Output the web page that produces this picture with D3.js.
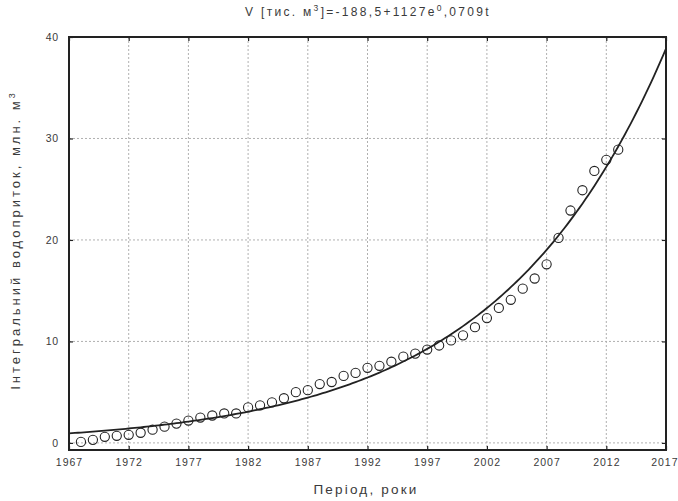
<!DOCTYPE html>
<html><head><meta charset="utf-8">
<script src="https://cdn.jsdelivr.net/npm/d3@7"></script>
<style>body{margin:0;background:#fff;}text{font-family:"Liberation Sans",Arial,sans-serif;fill:#3a3a3a;}</style>
</head><body><svg id="c" width="678" height="501"></svg>
<script>
const years = [1968,1969,1970,1971,1972,1973,1974,1975,1976,1977,1978,1979,1980,1981,1982,1983,1984,1985,1986,1987,1988,1989,1990,1991,1992,1993,1994,1995,1996,1997,1998,1999,2000,2001,2002,2003,2004,2005,2006,2007,2008,2009,2010,2011,2012,2013];
const volumes = [0.1,0.3,0.6,0.7,0.8,1.0,1.3,1.6,1.9,2.2,2.5,2.7,2.9,2.9,3.5,3.7,4.0,4.4,5.0,5.2,5.8,6.0,6.6,6.9,7.4,7.6,8.0,8.5,8.8,9.2,9.6,10.1,10.6,11.4,12.3,13.3,14.1,15.2,16.2,17.6,20.2,22.9,24.9,26.8,27.9,28.9];
const fitCoef = [-188.5, 1127, 0.0709]; // V [тис. м3] = a + b*e^(c*t), t = year-1967
const xTicks = [1967,1972,1977,1982,1987,1992,1997,2002,2007,2012,2017];
const yTicks = [0,10,20,30,40];

const svg = d3.select("#c");
const L=69,R=666,T=37,B=450;
const x = d3.scaleLinear().domain([1967,2017]).range([L,R]);
const y = d3.scaleLinear().domain([-0.7,40]).range([B,T]);

// grid
svg.append("g").selectAll("line").data(xTicks.slice(1,-1)).join("line")
  .attr("x1",d=>x(d)).attr("x2",d=>x(d)).attr("y1",T).attr("y2",B)
  .attr("stroke","#b0b0b0").attr("stroke-width",1).attr("stroke-dasharray","2,2");
svg.append("g").selectAll("line").data(yTicks.slice(0,-1)).join("line")
  .attr("x1",L).attr("x2",R).attr("y1",d=>y(d)).attr("y2",d=>y(d))
  .attr("stroke","#b0b0b0").attr("stroke-width",1).attr("stroke-dasharray","2,2");

// axes with inner ticks
const ax = svg.append("g").attr("transform",`translate(0,${B})`)
  .call(d3.axisBottom(x).tickValues(xTicks).tickFormat(d3.format("d")).tickSizeInner(-4).tickSizeOuter(0).tickPadding(9));
const axT = svg.append("g").attr("transform",`translate(0,${T})`)
  .call(d3.axisTop(x).tickValues(xTicks).tickFormat("").tickSizeInner(-4).tickSizeOuter(0));
const ay = svg.append("g").attr("transform",`translate(${L},0)`)
  .call(d3.axisLeft(y).tickValues(yTicks).tickSizeInner(-4).tickSizeOuter(0).tickPadding(10));
const ayR = svg.append("g").attr("transform",`translate(${R},0)`)
  .call(d3.axisRight(y).tickValues(yTicks).tickFormat("").tickSizeInner(-4).tickSizeOuter(0));
[ax,axT,ay,ayR].forEach(g=>{g.select(".domain").remove();g.selectAll(".tick line").attr("stroke","#222").attr("stroke-width",1.2);});
ax.selectAll("text").attr("font-size",10.5).attr("fill","#3a3a3a").style("letter-spacing","1px");
ax.selectAll(".tick").filter(d=>d===2017).select("text").attr("text-anchor","end").attr("dx",12);
ay.selectAll("text").attr("font-size",10.5).attr("fill","#3a3a3a").style("letter-spacing","0.8px");

// fitted curve
svg.append("clipPath").attr("id","clip").append("rect").attr("x",L).attr("y",T).attr("width",R-L).attr("height",B-T);
const curveYears = d3.range(1967,2017.01,0.25);
svg.append("path").datum(curveYears).attr("clip-path","url(#clip)")
  .attr("fill","none").attr("stroke","#222").attr("stroke-width",1.8)
  .attr("d",d3.line().x(d=>x(d)).y(d=>y((fitCoef[0]+fitCoef[1]*Math.exp(fitCoef[2]*(d-1967)))/1000)));

// points
svg.append("g").selectAll("circle").data(years).join("circle")
  .attr("cx",(d)=>x(d)).attr("cy",(d,i)=>y(volumes[i])).attr("r",4.6)
  .attr("fill","none").attr("stroke","#222").attr("stroke-width",1.1);

// frame
svg.append("rect").attr("x",L).attr("y",T).attr("width",R-L).attr("height",B-T)
  .attr("fill","none").attr("stroke","#222").attr("stroke-width",2);

// title
const t = svg.append("text").attr("x",368).attr("y",16).attr("text-anchor","middle").attr("font-size",12).style("letter-spacing","2.3px");
t.append("tspan").text("V [тис. м");
t.append("tspan").attr("dy",-5).attr("font-size",8.5).text("3");
t.append("tspan").attr("dy",5).text("]=-188,5+1127e");
t.append("tspan").attr("dy",-5).attr("font-size",8.5).text("0");
t.append("tspan").attr("dy",5).text(",0709t");

// axis titles
svg.append("text").attr("x",366).attr("y",494).attr("text-anchor","middle").attr("font-size",13.5).style("letter-spacing","2.2px").text("Період, роки");
const yl = svg.append("text").attr("transform","translate(20,240) rotate(-90)").attr("text-anchor","middle").attr("font-size",13).style("letter-spacing","3px");
yl.append("tspan").text("Інтегральний водоприток, млн. м");
yl.append("tspan").attr("dy",-5).attr("font-size",9).text("3");
</script></body></html>
